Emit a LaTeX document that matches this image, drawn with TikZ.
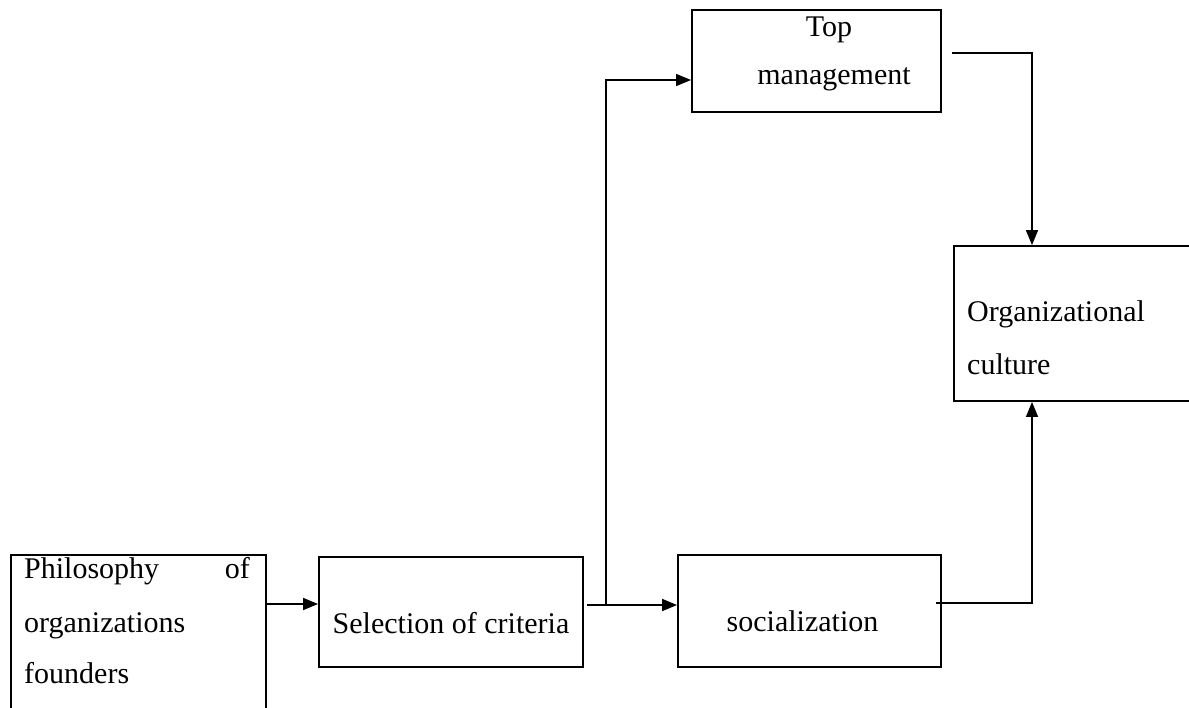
\documentclass[tikz,border=0pt]{standalone}
\usepackage{fontspec}
\setmainfont{Liberation Serif}
\usetikzlibrary{arrows.meta,calc}
\begin{document}
\begin{tikzpicture}[x=1pt,y=-1pt,
  box/.style={draw,line width=1.9pt,rectangle,inner sep=0pt},
  arr/.style={line width=1.6pt,-{Triangle[length=15pt,width=12pt]}},
  lbl/.style={inner sep=0pt,font=\fontsize{30}{36}\selectfont}]
\useasboundingbox (0,0) rectangle (1189,707);
\clip (0,0) rectangle (1189,707);
% boxes
\node[box,minimum width=255pt,minimum height=165pt] (phil) at (138.5,637.5) {};
\node[box,minimum width=264pt,minimum height=110pt] (sel) at (451,612) {};
\node[box,minimum width=263pt,minimum height=112pt] (soc) at (809.5,611) {};
\node[box,minimum width=249pt,minimum height=102pt] (top) at (816.5,61) {};
\node[box,minimum width=246pt,minimum height=155pt] (org) at (1077,323.5) {};
% texts
\node[lbl,anchor=base west] (philA) at (24,578) {Philosophy};
\node[lbl,anchor=base east] (philB) at (250,578) {of};
\node[lbl,anchor=base west] (philC) at (24,632) {organizations};
\node[lbl,anchor=base west] (philD) at (24,683) {founders};
\node[lbl,anchor=base] (selT) at (451,633) {Selection of criteria};
\node[lbl,anchor=base] (socT) at (802.5,631) {socialization};
\node[lbl,anchor=base] (topA) at (829,36) {Top};
\node[lbl,anchor=base] (topB) at (834,84) {management};
\node[lbl,anchor=base west] (orgA) at (967,321) {Organizational};
\node[lbl,anchor=base west] (orgB) at (967,374) {culture};
% connector points
\coordinate (p1) at (266,604);
\coordinate (s1) at (587,605);
\coordinate (j) at (606,605);
\coordinate (tin) at (692,80);
\coordinate (t2) at (952,53);
\coordinate (s2) at (936,603);
\coordinate (oc) at (1032,0);
% connectors
\draw[arr] (p1) -- (sel.west |- p1);
\draw[arr] (s1) -- (soc.west |- s1);
\draw[arr] (j) |- (top.west |- tin);
\draw[arr] (t2) -| (oc |- org.north);
\draw[arr] (s2) -| (oc |- org.south);
\end{tikzpicture}
\end{document}
